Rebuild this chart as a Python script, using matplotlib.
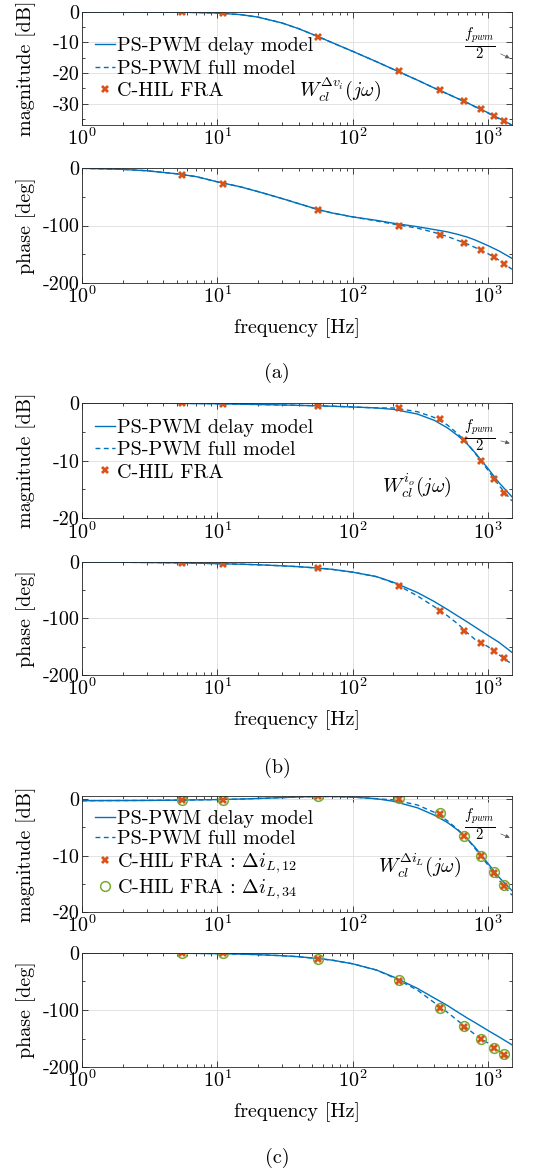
import numpy as np
import matplotlib
matplotlib.use("Agg")
import matplotlib.pyplot as plt
from matplotlib.ticker import FixedLocator, FuncFormatter, LogLocator

plt.rcParams['font.family'] = 'serif'
plt.rcParams['font.serif'] = ['cmr10', 'DejaVu Serif']
plt.rcParams['mathtext.fontset'] = 'cm'
plt.rcParams['axes.unicode_minus'] = False
plt.rcParams['axes.formatter.use_mathtext'] = True
FS = 14.5
plt.rcParams['font.size'] = FS

BLUE = '#0072BD'
ORANGE = '#D95319'
GREEN = '#77AC30'

# measurement frequencies (C-HIL FRA)
f_fra = [5.5, 11, 55, 220, 440, 660, 880, 1100, 1320]
# frequencies where the model curves were read
f_model = [1, 2, 3, 5, 7, 10, 15, 20, 30, 40, 55, 70, 100, 150, 200, 300,
           400, 500, 600, 700, 800, 1000, 1200, 1500]

# (a) W_cl^{dv_i}
a_mag_delay = [0, 0, -0.02, -0.08, -0.18, -0.35, -0.9, -1.7, -3.6, -5.5, -8.0, -10.0,
               -12.9, -16.3, -18.8, -22.3, -24.9, -26.8, -28.4, -29.7, -31.0, -33.0, -34.8, -37.0]
a_mag_full = [0, 0, -0.02, -0.08, -0.18, -0.35, -0.9, -1.7, -3.6, -5.5, -8.0, -10.0,
              -12.9, -16.3, -18.8, -22.3, -24.9, -26.8, -28.4, -29.7, -31.0, -33.1, -35.0, -37.4]
a_ph_delay = [-0.5, -2.3, -4.7, -10, -15, -24, -33, -41, -53, -62, -72, -78,
              -85, -91, -96, -102, -107, -111, -115.5, -120, -125, -135, -144, -157]
a_ph_full = [-0.5, -2.3, -4.7, -10, -15, -24, -33, -41, -53, -62, -72, -78,
             -85, -92, -97.5, -104.5, -112, -119, -126, -132, -138, -149, -160, -176]
a_mag_fra = [0.0, -0.3, -8.1, -19.5, -25.7, -29.2, -31.9, -34.0, -35.8]
a_ph_fra = [-11.7, -27, -73, -100, -116, -130, -143, -154, -167]

# (b) W_cl^{i_o}
b_mag_delay = [0, 0, 0, -0.05, -0.08, -0.12, -0.2, -0.25, -0.33, -0.4, -0.48, -0.55,
               -0.68, -0.85, -1.1, -1.9, -3.0, -4.3, -5.7, -7.1, -8.6, -11.4, -13.8, -16.3]
b_mag_full = [0, 0, 0, -0.05, -0.08, -0.12, -0.2, -0.25, -0.33, -0.4, -0.48, -0.55,
              -0.68, -0.85, -0.85, -1.5, -2.5, -3.8, -5.4, -7.0, -8.7, -11.7, -14.3, -17.0]
b_ph_delay = [-0.3, -0.6, -0.9, -1.5, -2.1, -3, -4, -5, -6.8, -8.4, -10.8, -13,
              -18, -26, -36, -54, -70, -84, -96, -106, -115, -130, -142, -160]
b_ph_full = [-0.3, -0.6, -0.9, -1.5, -2.1, -3, -4, -5, -6.8, -8.4, -10.8, -13,
             -18, -26, -37, -60, -79, -95, -110, -125, -137, -150, -164, -181]
b_mag_fra = [0, -0.1, -0.5, -0.8, -2.7, -6.5, -10.1, -13.2, -15.7]
b_ph_fra = [-1.8, -3, -10.6, -41.8, -86.5, -121.8, -143.5, -158, -170.6]

# (c) W_cl^{di_L}
c_mag_delay = [-0.25, -0.22, -0.2, -0.15, -0.1, -0.05, 0.05, 0.15, 0.3, 0.42, 0.5, 0.5,
               0.4, 0.1, -0.35, -1.5, -2.8, -4.1, -5.5, -7.0, -8.5, -11.4, -13.8, -16.2]
c_mag_full = [-0.25, -0.22, -0.2, -0.15, -0.1, -0.05, 0.05, 0.15, 0.3, 0.42, 0.5, 0.5,
              0.4, 0.1, -0.1, -1.0, -2.3, -3.8, -5.4, -7.0, -8.7, -11.7, -14.3, -17.0]
c_ph_delay = [-0.1, -0.2, -0.3, -0.5, -0.7, -1.2, -2, -3, -4.8, -6.6, -9.8, -12.5,
              -19, -30, -42, -62, -79, -92, -104, -114, -122, -136, -147, -161]
c_ph_full = [-0.1, -0.2, -0.3, -0.5, -0.7, -1.2, -2, -3, -4.8, -6.6, -9.8, -12.5,
             -19, -30, -43, -65, -87, -104, -119, -132, -143, -158, -172, -186]
c_mag_fra12 = [-0.1, -0.05, 0.55, 0.1, -2.6, -6.6, -10.0, -13.0, -15.4]
c_mag_fra34 = [-0.1, -0.05, 0.55, 0.15, -2.5, -6.5, -10.0, -12.9, -15.3]
c_ph_fra12 = [0, 0, -10.5, -48.5, -96.5, -129, -151, -166, -178.4]
c_ph_fra34 = [0, 0, -10.5, -48, -96, -128.5, -151, -166, -178]


def style_axes(ax, ylim, yticks, yminor):
    ax.set_xscale('log')
    ax.set_xlim(1, 1500)
    ax.set_ylim(*ylim)
    ax.yaxis.set_major_locator(FixedLocator(yticks))
    ax.yaxis.set_minor_locator(FixedLocator(yminor))
    ax.yaxis.set_major_formatter(FuncFormatter(lambda v, p: '%d' % v))
    ax.xaxis.set_major_locator(LogLocator(base=10, numticks=10))
    ax.xaxis.set_minor_locator(LogLocator(base=10, subs=np.arange(2, 10), numticks=20))
    ax.tick_params(which='both', direction='in', top=True, right=True,
                   width=0.6, colors='0.15', labelcolor='black', labelsize=FS)
    ax.tick_params(which='major', length=4.5, pad=2)
    ax.tick_params(which='minor', length=2.5)
    ax.grid(True, which='major', color='0.87', lw=0.6)
    ax.set_axisbelow(True)
    for s in ax.spines.values():
        s.set_linewidth(0.6)
        s.set_color('0.15')
    ax.yaxis.set_label_coords(-0.107, 0.5)


def draw_models(ax, delay, full):
    ax.plot(f_model, delay, color=BLUE, lw=1.0, label='PS-PWM delay model')
    ax.plot(f_model, full, color=BLUE, lw=1.0, ls=(0, (3.5, 2.5)), label='PS-PWM full model')


def fpwm_note(ax, txt_y, tip_y):
    ax.annotate(r'$\frac{f_{pwm}}{2}$', xy=(0.995, tip_y), xycoords='axes fraction',
                xytext=(0.925, txt_y), textcoords='axes fraction', ha='center', va='center',
                fontsize=15, arrowprops=dict(arrowstyle='-|>', color='0.35', lw=0.5,
                                             mutation_scale=6, shrinkA=2, shrinkB=0))


def add_legend(ax, y, handles=None, labels=None, spacing=0.2):
    kw = dict(loc='upper left', bbox_to_anchor=(0.03, y), frameon=False, borderpad=0,
              handlelength=1.0, handletextpad=0.1, labelspacing=spacing,
              borderaxespad=0, fontsize=FS)
    if handles is None:
        ax.legend(**kw)
    else:
        ax.legend(handles, labels, **kw)


fig = plt.figure(figsize=(5.54, 11.71), dpi=100)
L, W = 0.148, 0.776

axes_pos = [
    (0.8933, 0.0965), (0.7583, 0.0982),
    (0.5576, 0.0982), (0.4236, 0.0965),
    (0.2212, 0.0991), (0.0888, 0.0974),
]
axs = [fig.add_axes([L, b, W, h]) for b, h in axes_pos]

# ---- (a)
ax = axs[0]
draw_models(ax, a_mag_delay, a_mag_full)
ax.plot(f_fra, a_mag_fra, ls='none', marker='X', ms=5.5, color=ORANGE, mew=0, label='C-HIL FRA')
style_axes(ax, (-37, 0), [-30, -20, -10, 0], [-35, -25, -15, -5])
ax.set_ylabel('magnitude [dB]')
add_legend(ax, 0.775)
ax.text(0.60, 0.32, r'$W_{cl}^{\Delta v_i}(j\omega)$', transform=ax.transAxes,
        ha='center', va='center', fontsize=FS)
fpwm_note(ax, 0.72, 0.59)

ax = axs[1]
draw_models(ax, a_ph_delay, a_ph_full)
ax.plot(f_fra, a_ph_fra, ls='none', marker='X', ms=5.5, color=ORANGE, mew=0)
style_axes(ax, (-200, 0), [-200, -100, 0], [-150, -50])
ax.set_ylabel('phase [deg]')
ax.set_xlabel('frequency [Hz]', labelpad=7.5)

# ---- (b)
ax = axs[2]
draw_models(ax, b_mag_delay, b_mag_full)
ax.plot(f_fra, b_mag_fra, ls='none', marker='X', ms=5.5, color=ORANGE, mew=0, label='C-HIL FRA')
style_axes(ax, (-20, 0), [-20, -10, 0], [-15, -5])
ax.set_ylabel('magnitude [dB]')
add_legend(ax, 0.86)
ax.text(0.78, 0.29, r'$W_{cl}^{i_o}(j\omega)$', transform=ax.transAxes,
        ha='center', va='center', fontsize=FS)
fpwm_note(ax, 0.72, 0.65)

ax = axs[3]
draw_models(ax, b_ph_delay, b_ph_full)
ax.plot(f_fra, b_ph_fra, ls='none', marker='X', ms=5.5, color=ORANGE, mew=0)
style_axes(ax, (-200, 0), [-200, -100, 0], [-150, -50])
ax.set_ylabel('phase [deg]')
ax.set_xlabel('frequency [Hz]', labelpad=7.5)

# ---- (c)
ax = axs[4]
draw_models(ax, c_mag_delay, c_mag_full)
h34, = ax.plot(f_fra, c_mag_fra34, ls='none', marker='o', ms=7, mfc='none', mec=GREEN, mew=1.1)
h12, = ax.plot(f_fra, c_mag_fra12, ls='none', marker='X', ms=5.5, color=ORANGE, mew=0)
style_axes(ax, (-20, 0.6), [-20, -10, 0], [-15, -5])
ax.set_ylabel('magnitude [dB]')
hl = ax.get_lines()[:2]
add_legend(ax, 0.88, hl + [h12, h34],
           ['PS-PWM delay model', 'PS-PWM full model',
            r'C-HIL FRA : $\Delta i_{L,12}$', r'C-HIL FRA : $\Delta i_{L,34}$'], spacing=0.12)
ax.text(0.786, 0.40, r'$W_{cl}^{\Delta i_L}(j\omega)$', transform=ax.transAxes,
        ha='center', va='center', fontsize=FS)
fpwm_note(ax, 0.75, 0.64)

ax = axs[5]
draw_models(ax, c_ph_delay, c_ph_full)
ax.plot(f_fra, c_ph_fra34, ls='none', marker='o', ms=7, mfc='none', mec=GREEN, mew=1.1)
ax.plot(f_fra, c_ph_fra12, ls='none', marker='X', ms=5.5, color=ORANGE, mew=0)
style_axes(ax, (-200, 0), [-200, -100, 0], [-150, -50])
ax.set_ylabel('phase [deg]')
ax.set_xlabel('frequency [Hz]', labelpad=7.5)

for y, t in [(373, '(a)'), (768, '(b)'), (1158, '(c)')]:
    fig.text(0.5, 1 - y / 1171, t, ha='center', va='center', fontsize=FS)

fig.savefig('out.png', dpi=100)
